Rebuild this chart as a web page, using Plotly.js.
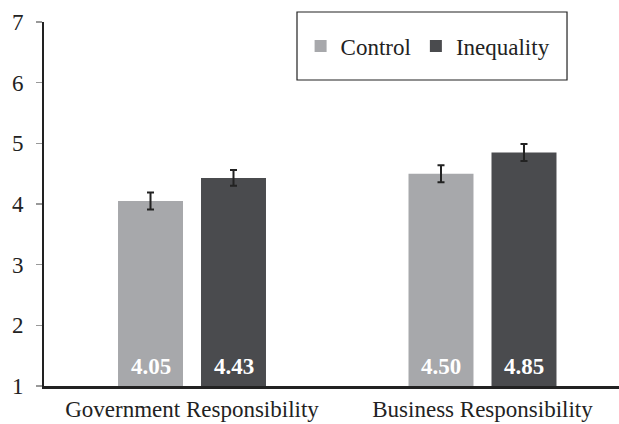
<!DOCTYPE html>
<html>
<head>
<meta charset="utf-8">
<script src="https://cdn.plot.ly/plotly-3.0.1.min.js"></script>
<style>html,body{margin:0;padding:0;background:#fff;}#chart{width:619px;height:424px;}</style>
</head>
<body>
<div id="chart"></div>
<script>
var categories = ["Government Responsibility", "Business Responsibility"];
var controlValues = [4.05, 4.50];
var inequalityValues = [4.43, 4.85];
var controlErrors = [0.14, 0.14];
var inequalityErrors = [0.13, 0.14];
var yTicks = [1, 2, 3, 4, 5, 6, 7];

var serif = "Liberation Serif";

var traces = [
  {
    type: "bar", name: "Control", x: categories, y: controlValues,
    marker: { color: "#a7a8ab", line: { width: 0 } },
    error_y: { type: "data", array: controlErrors, visible: true, color: "#222", thickness: 2, width: 3.5 },
    hoverinfo: "none"
  },
  {
    type: "bar", name: "Inequality", x: categories, y: inequalityValues,
    marker: { color: "#4a4b4e", line: { width: 0 } },
    error_y: { type: "data", array: inequalityErrors, visible: true, color: "#222", thickness: 2, width: 3.5 },
    hoverinfo: "none"
  }
];

// value labels at the bottom of each bar
var annotations = [];
var groups = [{ vals: controlValues, shift: -41.5 }, { vals: inequalityValues, shift: 41.5 }];
groups.forEach(function (g) {
  g.vals.forEach(function (v, i) {
    annotations.push({
      x: categories[i], y: 1, xref: "x", yref: "y", yanchor: "bottom", xanchor: "center",
      xshift: g.shift, yshift: 5, showarrow: false, text: "<b>" + v.toFixed(2) + "</b>",
      font: { family: serif, size: 23, color: "#ffffff" }
    });
  });
});

var layout = {
  width: 619, height: 424,
  margin: { l: 44, r: 0, t: 22, b: 38, pad: 0 },
  paper_bgcolor: "#fff", plot_bgcolor: "#fff",
  font: { family: serif, size: 23, color: "#222" },
  barmode: "group", bargap: 0.4286, bargroupgap: 0.217,
  showlegend: true,
  legend: {
    orientation: "h", x: 0.668, y: 0.934, xanchor: "center", yanchor: "middle",
    bgcolor: "rgba(0,0,0,0)", borderwidth: 0,
    font: { family: serif, size: 23, color: "#222" },
    itemwidth: 30, traceorder: "normal"
  },
  annotations: annotations,
  shapes: [
    { type: "rect", xref: "paper", yref: "paper", x0: 0.44, x1: 0.9096, y0: 0.8407, y1: 1.0275,
      line: { color: "#222", width: 1.2 }, fillcolor: "rgba(0,0,0,0)", layer: "below" }
  ],
  xaxis: {
    type: "category", range: [-0.5095, 1.4699], fixedrange: true,
    showline: true, linecolor: "#222", linewidth: 3, ticks: "", showgrid: false, zeroline: false,
    tickfont: { family: serif, size: 23, color: "#222" }
  },
  yaxis: {
    range: [1, 7], tickvals: yTicks, ticktext: yTicks.map(String), fixedrange: true,
    showline: true, linecolor: "#222", linewidth: 2,
    ticks: "outside", ticklen: 6, tickwidth: 1.5, tickcolor: "#999",
    ticklabelstandoff: 8,
    showgrid: false, zeroline: false,
    tickfont: { family: serif, size: 23, color: "#222" }
  }
};

Plotly.newPlot("chart", traces, layout, { displayModeBar: false, staticPlot: true });
</script>
</body>
</html>
